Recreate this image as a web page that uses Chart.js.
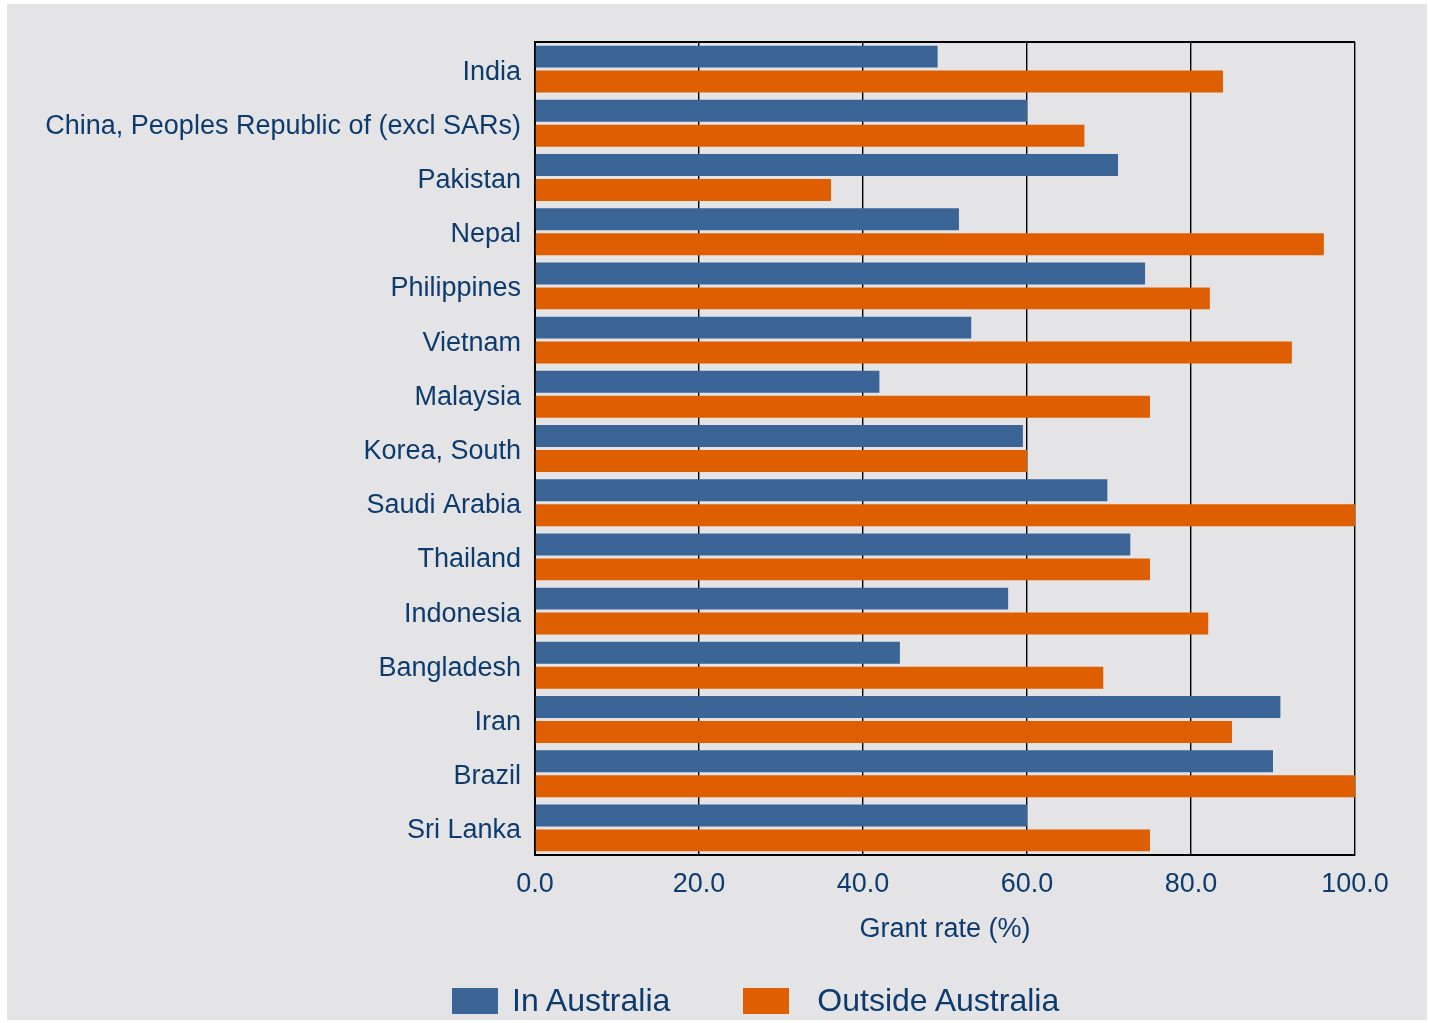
<!DOCTYPE html>
<html>
<head>
<meta charset="utf-8">
<script src="https://cdn.jsdelivr.net/npm/chart.js@4.4.1/dist/chart.umd.min.js"></script>
<style>
  body { margin: 0; background: #ffffff; }
  #wrap { position: absolute; left: 7px; top: 4px; width: 1420px; height: 1016px; background: #e4e4e6; }
  #legend { position: absolute; left: 452px; top: 982px; display: flex; align-items: center;
    font-family: 'Liberation Sans', Arial, sans-serif; font-size: 32px; color: #0d3b6e; }
  #legend .box { width: 46px; height: 26px; }
</style>
</head>
<body>
<div id="wrap"><canvas id="myChart"></canvas></div>
<div id="legend"></div>
<script>
const countries = ['India', 'China, Peoples Republic of (excl SARs)', 'Pakistan', 'Nepal', 'Philippines',
  'Vietnam', 'Malaysia', 'Korea, South', 'Saudi Arabia', 'Thailand', 'Indonesia', 'Bangladesh',
  'Iran', 'Brazil', 'Sri Lanka'];
const inAustralia = [49.1, 60.0, 71.1, 51.7, 74.4, 53.2, 42.0, 59.5, 69.8, 72.6, 57.7, 44.5, 90.9, 90.0, 60.0];
const outsideAustralia = [83.9, 67.0, 36.1, 96.2, 82.3, 92.3, 75.0, 60.0, 100.0, 75.0, 82.1, 69.3, 85.0, 100.0, 75.0];

const navy = '#0d3b6e';
const font = 'Liberation Sans, Arial, Helvetica, sans-serif';

// top edge of the plot frame
const frameTop = {
  id: 'frameTop',
  afterDatasetsDraw(chart) {
    const { ctx, chartArea } = chart;
    ctx.save();
    ctx.strokeStyle = '#000';
    ctx.lineWidth = 2;
    ctx.beginPath();
    ctx.moveTo(chartArea.left, chartArea.top);
    ctx.lineTo(chartArea.right, chartArea.top);
    ctx.stroke();
    ctx.restore();
  }
};

const ctx = document.getElementById('myChart').getContext('2d');
const chart = new Chart(ctx, {
  type: 'bar',
  data: {
    labels: countries,
    datasets: [{
      label: 'In Australia',
      data: inAustralia,
      backgroundColor: '#3a6596',
      categoryPercentage: 0.92,
      barPercentage: 0.88
    }, {
      label: 'Outside Australia',
      data: outsideAustralia,
      backgroundColor: '#df5e00',
      categoryPercentage: 0.92,
      barPercentage: 0.88
    }]
  },
  options: {
    indexAxis: 'y',
    responsive: true,
    maintainAspectRatio: false,
    animation: false,
    layout: { padding: { top: 38, right: 72, bottom: 0, left: 0 } },
    scales: {
      x: {
        min: 0,
        max: 100,
        ticks: {
          stepSize: 20,
          color: navy,
          font: { family: font, size: 27 },
          padding: 13,
          maxRotation: 0,
          callback: (v) => Number(v).toFixed(1)
        },
        grid: { color: '#000', lineWidth: 1.4, drawTicks: false },
        border: { color: '#000', width: 2 },
        title: {
          display: true,
          text: 'Grant rate (%)',
          color: navy,
          font: { family: font, size: 27 },
          padding: { top: 0, bottom: 74 }
        },
        afterFit: (scale) => { scale.height = 165; }
      },
      y: {
        ticks: {
          color: navy,
          font: { family: font, size: 27 },
          padding: 14,
          labelOffset: 3
        },
        grid: { color: 'rgba(0,0,0,0)', drawTicks: false },
        border: { color: '#000', width: 2 },
        afterFit: (scale) => { scale.width = 528; }
      }
    },
    plugins: {
      legend: { display: false },
      tooltip: { enabled: false }
    }
  },
  plugins: [frameTop]
});

// legend built from the datasets
const legendGaps = [[14, 73], [28, 0]];
const legendEl = document.getElementById('legend');
chart.data.datasets.forEach((ds, i) => {
  const box = document.createElement('span');
  box.className = 'box';
  box.style.background = ds.backgroundColor;
  const txt = document.createElement('span');
  txt.textContent = ds.label;
  txt.style.marginLeft = legendGaps[i][0] + 'px';
  txt.style.marginRight = legendGaps[i][1] + 'px';
  legendEl.appendChild(box);
  legendEl.appendChild(txt);
});
</script>
</body>
</html>
